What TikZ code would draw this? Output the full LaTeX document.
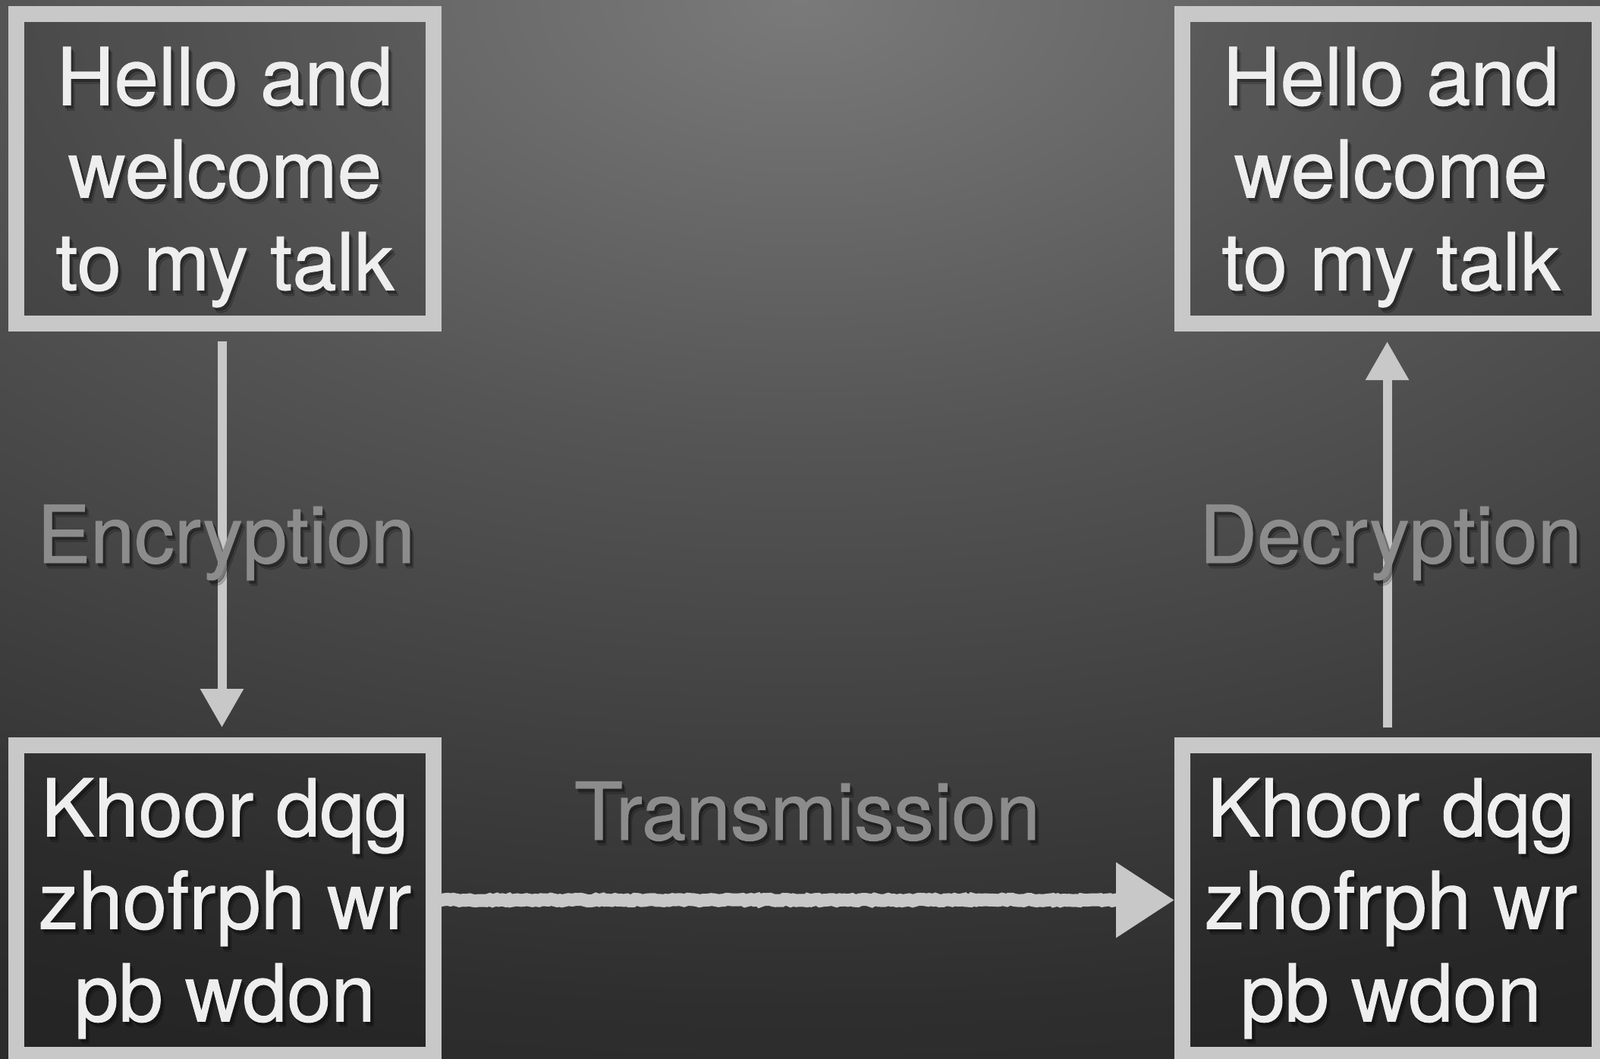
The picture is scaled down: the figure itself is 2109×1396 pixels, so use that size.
\documentclass[tikz,border=0pt]{standalone}
\usepackage{fontspec}
\setmainfont{TeX Gyre Heros}[FakeBold=0.9]
\usetikzlibrary{arrows.meta,calc,decorations.pathmorphing}
\definecolor{bgA}{HTML}{7A7A7A}
\definecolor{bgB}{HTML}{555555}
\definecolor{bgD}{HTML}{2E2E2E}
\definecolor{bgC}{HTML}{2B2B2B}
\definecolor{edge}{HTML}{C8C8C8}
\definecolor{ink}{HTML}{EEEEEE}
\definecolor{lbl}{HTML}{8C8C8C}
\pgfdeclareradialshading{bgshade}{\pgfpoint{0bp}{0bp}}{color(0bp)=(bgA); color(10bp)=(bgB); color(23bp)=(bgD); color(25bp)=(bgC); color(50bp)=(bgC)}
\begin{document}
\begin{tikzpicture}[x=0.5pt,y=-0.5pt,
 box/.style={draw=edge, line width=10.5pt, fill=black, fill opacity=0.12, minimum width=275pt, minimum height=204pt, inner sep=0pt},
 boxtext/.style={text=ink, align=center, font=\fontsize{52.5pt}{61pt}\selectfont, inner sep=0pt},
 lab/.style={text=lbl, font=\fontsize{52.5pt}{61pt}\selectfont, inner sep=0pt, anchor=base},
 shdA/.style={text=black, text opacity=0.28},
 shdB/.style={text=black, text opacity=0.16},
 arr/.style={draw=edge, line width=6pt, -{Triangle[length=25.5pt,width=27pt]}, shorten <=6.5pt, shorten >=6.5pt},
 chalk/.style={draw=edge, line width=8.5pt, decorate, decoration={random steps, segment length=2pt, amplitude=0.6pt, post length=25pt}, -{Triangle[length=38.5pt,width=47.5pt]}, shorten <=3pt}
]
\useasboundingbox (0,0) rectangle (2109,1396);
\begin{scope}
\clip (0,0) rectangle (2109,1396);
\fill[bgC] (0,0) rectangle (2109,1396);
\shade[shading=bgshade] (1054,0) ellipse [x radius=2557, y radius=1450];
\end{scope}
\node[box] (tl) at (296.5,222.5) {};
\node[box] (tr) at (1833.5,222.5) {};
\node[box] (bl) at (296.5,1186.5) {};
\node[box] (br) at (1833.5,1186.5) {};
% text shadows
\node[boxtext, shdB] (tls2) at ($(tl.center)+(5,18)$) {Hello and\\welcome\\to my talk};
\node[boxtext, shdA] (tls1) at ($(tl.center)+(3,15)$) {Hello and\\welcome\\to my talk};
\node[boxtext, shdB] (trs2) at ($(tr.center)+(5,18)$) {Hello and\\welcome\\to my talk};
\node[boxtext, shdA] (trs1) at ($(tr.center)+(3,15)$) {Hello and\\welcome\\to my talk};
\node[boxtext, shdB] (bls2) at ($(bl.center)+(5,18)$) {Khoor dqg\\zhofrph wr\\pb wdon};
\node[boxtext, shdA] (bls1) at ($(bl.center)+(3,15)$) {Khoor dqg\\zhofrph wr\\pb wdon};
\node[boxtext, shdB] (brs2) at ($(br.center)+(5,18)$) {Khoor dqg\\zhofrph wr\\pb wdon};
\node[boxtext, shdA] (brs1) at ($(br.center)+(3,15)$) {Khoor dqg\\zhofrph wr\\pb wdon};
% texts
\node[boxtext] (tlt) at ($(tl.center)+(0,11)$) {Hello and\\welcome\\to my talk};
\node[boxtext] (trt) at ($(tr.center)+(0,11)$) {Hello and\\welcome\\to my talk};
\node[boxtext] (blt) at ($(bl.center)+(0,11)$) {Khoor dqg\\zhofrph wr\\pb wdon};
\node[boxtext] (brt) at ($(br.center)+(0,11)$) {Khoor dqg\\zhofrph wr\\pb wdon};
% connectors
\draw[arr, transform canvas={xshift=-2pt}] (tl.south) -- (bl.north);
\draw[arr, transform canvas={xshift=-2.5pt}] (br.north) -- (tr.south);
\draw[chalk] (bl.east) -- (br.west);
% labels with shadows
\node[lab, shdB] (encs) at (303,749) {Encryption};
\node[lab, shdA] (encs1) at (301,746) {Encryption};
\node[lab] (enc) at (298,742) {Encryption};
\node[lab, shdB] (decs) at (1838,749) {Decryption};
\node[lab, shdA] (decs1) at (1836,746) {Decryption};
\node[lab] (dec) at (1833,742) {Decryption};
\node[lab, shdB] (trns) at (1069,1114) {Transmission};
\node[lab, shdA] (trns1) at (1067,1111) {Transmission};
\node[lab] (trn) at (1064,1107) {Transmission};
\end{tikzpicture}
\end{document}
